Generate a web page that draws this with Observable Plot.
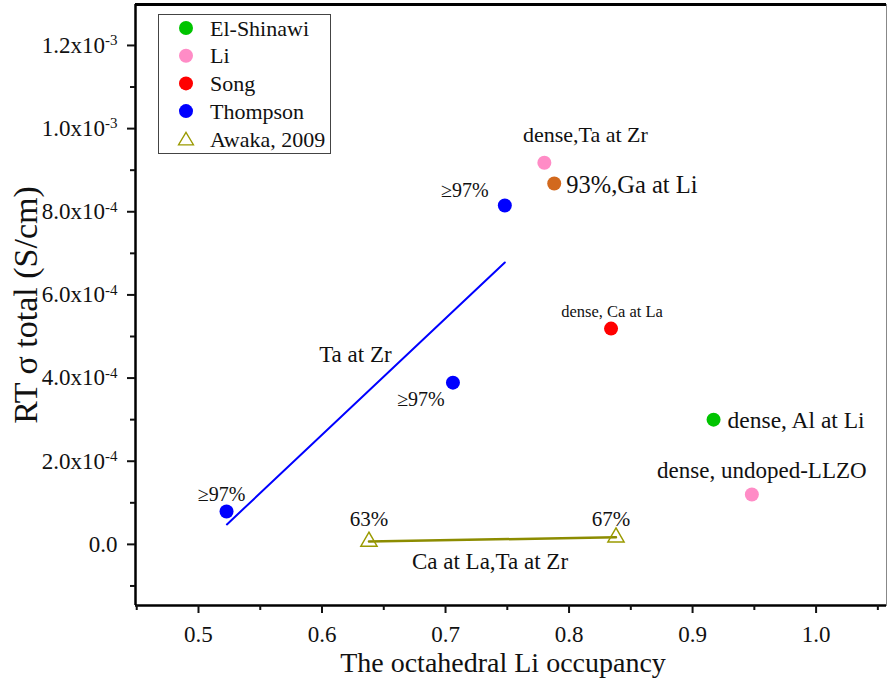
<!DOCTYPE html>
<html>
<head>
<meta charset="utf-8">
<script src="https://cdn.jsdelivr.net/npm/d3@7"></script>
<script src="https://cdn.jsdelivr.net/npm/@observablehq/plot@0.6"></script>
<style>
  html, body { margin: 0; padding: 0; background: #fff; }
  #wrap { position: relative; width: 887px; height: 683px; }
</style>
</head>
<body>
<div id="wrap"></div>
<script>
// ---- data ----
const elShinawiX = [0.917];
const elShinawiY = [3.0e-4];
const elShinawiLabel = ["dense, Al at Li"];

const liX = [0.780, 0.948];
const liY = [9.18e-4, 1.2e-4];
const liLabel = ["dense,Ta at Zr", "dense, undoped-LLZO"];

const songX = [0.834];
const songY = [5.19e-4];
const songLabel = ["dense, Ca at La"];

const gaX = [0.788];
const gaY = [8.68e-4];
const gaLabel = ["93%,Ga at Li"];

const thompsonX = [0.748, 0.706, 0.5227];
const thompsonY = [8.15e-4, 3.89e-4, 7.9e-5];
const thompsonLabel = ["≥97%", "≥97%", "≥97%"];

const thompsonFitX = [0.523, 0.748];
const thompsonFitY = [4.8e-5, 6.78e-4];

const awakaX = [0.638, 0.838];
const awakaY = [7e-6, 1.7e-5];
const awakaLabel = ["63%", "67%"];

const noteText = ["Ta at Zr", "Ca at La,Ta at Zr"];
const noteX = [0.627, 0.736];
const noteY = [4.57e-4, -4.1e-5];

const xDomain = [0.449, 1.057];
const yDomain = [-1.47e-4, 1.2985e-3];
const xTicks = [0.5, 0.6, 0.7, 0.8, 0.9, 1.0];
const xMinor = [0.45, 0.55, 0.65, 0.75, 0.85, 0.95, 1.05];
const yTicks = [0, 2e-4, 4e-4, 6e-4, 8e-4, 1.0e-3, 1.2e-3];
const yTickLabels = ["0.0", "2.0x10^-4", "4.0x10^-4", "6.0x10^-4", "8.0x10^-4", "1.0x10^-3", "1.2x10^-3"];
const yMinor = [-1e-4, 1e-4, 3e-4, 5e-4, 7e-4, 9e-4, 1.1e-3];

const legendNames = ["El-Shinawi", "Li", "Song", "Thompson", "Awaka, 2009"];
const legendColors = ["#00c400", "#ff8cc6", "#ff0000", "#0000ff", "#9a9a00"];

// ---- build tables ----
const zip = (xs, ys, ls) => xs.map((x, i) => ({x, y: ys[i], label: ls ? ls[i] : null}));
const elShinawi = zip(elShinawiX, elShinawiY, elShinawiLabel);
const li = zip(liX, liY, liLabel);
const song = zip(songX, songY, songLabel);
const ga = zip(gaX, gaY, gaLabel);
const thompson = zip(thompsonX, thompsonY, thompsonLabel);
const fit = zip(thompsonFitX, thompsonFitY);
const awaka = zip(awakaX, awakaY, awakaLabel);
const notes = zip(noteX, noteY, noteText);

const FONT = '"Liberation Serif", "Times New Roman", serif';
const [cGreen, cPink, cRed, cBlue, cOlive] = legendColors;
const cOrange = "#d2691e";
const INK = "#111";

const plot = Plot.plot({
  width: 887,
  height: 683,
  marginLeft: 135,
  marginRight: 1,
  marginTop: 4,
  marginBottom: 78,
  style: {fontFamily: FONT, background: "#fff", color: INK},
  x: {domain: xDomain},
  y: {domain: yDomain},
  marks: [
    Plot.frame({stroke: "#888", strokeWidth: 1}),
    Plot.ruleX([xDomain[0]], {stroke: "#000", strokeWidth: 2.5}),
    Plot.ruleY([yDomain[0]], {stroke: "#000", strokeWidth: 2.5}),
    Plot.ruleY([yDomain[1]], {stroke: "#000", strokeWidth: 3}),
    Plot.axisX({ticks: xTicks, tickSize: 8, tickPadding: 12, strokeWidth: 2, fontSize: 23, tickFormat: d => d.toFixed(1), label: null}),
    Plot.axisX({ticks: xMinor, tickSize: 5, strokeWidth: 2, tickFormat: () => "", label: null}),
    Plot.axisY({ticks: yTicks, tickSize: 8, tickPadding: 10, strokeWidth: 2, fontSize: 23,
      tickFormat: d => yTickLabels[yTicks.findIndex(t => Math.abs(t - d) < 1e-9)], label: null}),
    Plot.axisY({ticks: yMinor, tickSize: 5, strokeWidth: 2, tickFormat: () => "", label: null}),
    Plot.text([0], {frameAnchor: "bottom", lineAnchor: "middle", text: () => "The octahedral Li occupancy", dx: -8, dy: 58, fontSize: 28, fill: INK}),
    Plot.text([0], {frameAnchor: "left", textAnchor: "middle", text: () => "RT σ total (S/cm)", rotate: -90, dx: -109, dy: 0, fontSize: 34, fill: INK}),
    // lines
    Plot.line(fit, {x: "x", y: "y", stroke: cBlue, strokeWidth: 2}),
    Plot.line(awaka, {x: "x", y: "y", stroke: "#8c8c00", strokeWidth: 2.5}),
    // points
    Plot.dot(awaka, {x: "x", y: "y", symbol: "triangle", r: 6, stroke: cOlive, strokeWidth: 1.5, fill: "none"}),
    Plot.dot(elShinawi, {x: "x", y: "y", r: 7, fill: cGreen}),
    Plot.dot(li, {x: "x", y: "y", r: 7, fill: cPink}),
    Plot.dot(song, {x: "x", y: "y", r: 7, fill: cRed}),
    Plot.dot(ga, {x: "x", y: "y", r: 7, fill: cOrange}),
    Plot.dot(thompson, {x: "x", y: "y", r: 7, fill: cBlue}),
    // annotations
    Plot.text(elShinawi, {x: "x", y: "y", text: "label", textAnchor: "start", dx: 14, dy: 1, fontSize: 23.5, fill: INK}),
    Plot.text([li[0]], {x: "x", y: "y", text: "label", dx: 41, dy: -28, fontSize: 22, fill: INK}),
    Plot.text([li[1]], {x: "x", y: "y", text: "label", dx: 10, dy: -24, fontSize: 23, fill: INK}),
    Plot.text(song, {x: "x", y: "y", text: "label", dx: 1, dy: -17, fontSize: 16.5, fill: INK}),
    Plot.text(ga, {x: "x", y: "y", text: "label", textAnchor: "start", dx: 12, dy: 2, fontSize: 24.5, fill: INK}),
    Plot.text([thompson[0]], {x: "x", y: "y", text: "label", dx: -40, dy: -15, fontSize: 20, fill: INK}),
    Plot.text([thompson[1]], {x: "x", y: "y", text: "label", dx: -32, dy: 17, fontSize: 20, fill: INK}),
    Plot.text([thompson[2]], {x: "x", y: "y", text: "label", dx: -5, dy: -17, fontSize: 20, fill: INK}),
    Plot.text([awaka[0]], {x: "x", y: "y", text: "label", dx: 0, dy: -22, fontSize: 21, fill: INK}),
    Plot.text([awaka[1]], {x: "x", y: "y", text: "label", dx: -5, dy: -18, fontSize: 21, fill: INK}),
    Plot.text(notes, {x: "x", y: "y", text: "label", fontSize: 23, fill: INK})
  ]
});

const svg = d3.select(plot);
// superscript exponents in y tick labels
svg.selectAll("g[aria-label='y-axis tick label'] text").each(function() {
  const t = this.textContent;
  if (t.includes("^")) {
    const [base, exp] = t.split("^");
    const sel = d3.select(this);
    sel.text(null);
    sel.append("tspan").text(base);
    sel.append("tspan").attr("dy", "-0.5em").style("font-size", "15px").text(exp);
  }
});

// legend (inside the SVG)
const lg = svg.append("g").attr("aria-label", "legend").attr("transform", "translate(158,14)");
lg.append("rect").attr("x", 0.5).attr("y", 0.5).attr("width", 172).attr("height", 139)
  .attr("fill", "#fff").attr("stroke", "#444").attr("stroke-width", 1);
legendNames.forEach((name, i) => {
  const cy = 14 + i * 27.7;
  if (i === 4) {
    lg.append("path").attr("d", `M28,${cy - 6.5}L35.5,${cy + 6}L20.5,${cy + 6}Z`)
      .attr("fill", "none").attr("stroke", legendColors[i]).attr("stroke-width", 1.3);
  } else {
    lg.append("circle").attr("cx", 28).attr("cy", cy).attr("r", 7).attr("fill", legendColors[i]);
  }
  lg.append("text").attr("x", 52).attr("y", cy).attr("dy", "0.35em")
    .attr("text-anchor", "start").style("font-size", "22px").attr("fill", INK).text(name);
});

document.getElementById("wrap").appendChild(plot);
</script>
</body>
</html>
